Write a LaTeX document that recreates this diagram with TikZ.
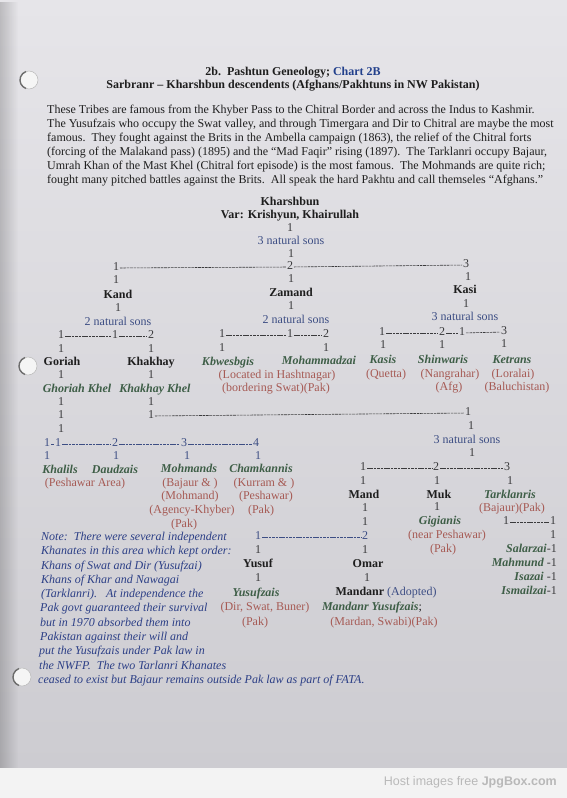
\documentclass[tikz,border=0pt]{standalone}
\usepackage{fontspec}
\setmainfont{Liberation Serif}
\newfontfamily\hostfont{Liberation Sans}
\usetikzlibrary{fadings}

\definecolor{papertop}{HTML}{E6E5E9}
\definecolor{paperbot}{HTML}{CDCCD1}
\definecolor{strip}{HTML}{F3F3F3}
\definecolor{inkblack}{HTML}{1E1E1E}
\definecolor{inkgray}{HTML}{3A3A3C}
\definecolor{clangreen}{HTML}{3E5E47}
\definecolor{placered}{HTML}{A65A54}
\definecolor{sonsblue}{HTML}{3D4E84}
\definecolor{noteblue}{HTML}{2C3F86}
\definecolor{chartblue}{HTML}{22408C}

\newcommand{\chartfont}{\fontsize{12}{13}\selectfont}

\begin{document}
\begin{tikzpicture}[x=1pt,y=-1pt,
    every node/.style={inner sep=0pt, text height=8pt, text depth=2.5pt, font=\chartfont},
    head/.style={font=\chartfont\bfseries, text=inkblack},
    clan/.style={font=\chartfont\bfseries\itshape, text=clangreen},
    place/.style={text=placered},
    sons/.style={text=sonsblue},
    bar/.style={text=inkgray},
    bluebar/.style={text=sonsblue},
    para/.style={anchor=west, text=inkblack},
    noteline/.style={anchor=west, font=\chartfont\itshape, text=noteblue},
    sib/.style={draw=inkgray, line width=0.6pt, dash pattern=on 2.6pt off 0.8pt,
                shorten <=0.8pt, shorten >=0.8pt},
    bluesib/.style={sib, draw=sonsblue}]

    % Draw the paper and the strip below it
    \useasboundingbox (0,0) rectangle (567,798);
    \shade[top color=papertop, bottom color=paperbot] (0,0) rectangle (567,768);
    \fill[black, opacity=0.18, path fading=east] (0,0) rectangle (18,768);
    \fill[strip] (0,768) rectangle (567,798);
    \node[anchor=east, font=\hostfont\fontsize{12.5}{14}\selectfont, text=gray!55] (host)
        at (557,783) {Host images free \textbf{JpgBox.com}};

    % Draw punch holes
    \foreach \hx/\hy in {29/80, 28/366, 22/677} {
        \fill[white!92!gray] (\hx,\hy) circle (9);
        \draw[gray!55, line width=0.5pt] (\hx,\hy) circle (9);
        \draw[gray!85!black, line width=1.4pt] ([shift={(110:9)}]\hx,\hy) arc (110:250:9);
    }

    % Draw title and text
    \node[head] (title) at (293,73) {2b.\ \ Pashtun Geneology; \textcolor{chartblue}{Chart 2B}};
    \node[head] (subtitle) at (293,86) {Sarbranr -- Kharshbun descendents (Afghans/Pakhtuns in NW Pakistan)};
    \node[para] (p1) at (47,111) {These Tribes are famous from the Khyber Pass to the Chitral Border and across the Indus to Kashmir.};
    \node[para] (p2) at (47,125) {The Yusufzais who occupy the Swat valley, and through Timergara and Dir to Chitral are maybe the most};
    \node[para] (p3) at (47,139) {famous.\ \ They fought against the Brits in the Ambella campaign (1863), the relief of the Chitral forts};
    \node[para] (p4) at (47,153) {(forcing of the Malakand pass) (1895) and the “Mad Faqir” rising (1897).\ \ The Tarklanri occupy Bajaur,};
    \node[para] (p5) at (47,167) {Umrah Khan of the Mast Khel (Chitral fort episode) is the most famous.\ \ The Mohmands are quite rich;};
    \node[para] (p6) at (47,181) {fought many pitched battles against the Brits.\ \ All speak the hard Pakhtu and call themseles “Afghans.”};

    % Draw Kharshbun and his sons
    \node[head] (kharshbun) at (290,203) {Kharshbun};
    \node[head] (var) at (290,216) {Var: Krishyun, Khairullah};
    \node[sons] (sons0) at (291,242) {3 natural sons};
    \node[bar] (top1) at (116,268) {1};
    \node[bar] (top2) at (290,267) {2};
    \node[bar] (top3) at (466,265) {3};
    \draw[sib] (top1) -- (top2);
    \draw[sib] (top2) -- (top3);
    \node[head] (kand) at (118,296) {Kand};
    \node[head] (zamand) at (291,294) {Zamand};
    \node[head] (kasi) at (465,291) {Kasi};
    \node[sons] (sonsk) at (118,323) {2 natural sons};
    \node[sons] (sonsz) at (296,321) {2 natural sons};
    \node[sons] (sonsc) at (465,318) {3 natural sons};

    % Sons of Kand, Zamand and Kasi
    \node[bar] (g1) at (61,336) {1};
    \node[bar] (g2) at (115,336) {1};
    \node[bar] (g3) at (151,336) {2};
    \draw[sib] (g1) -- (g2);
    \draw[sib] (g2) -- (g3);
    \node[bar] (z1) at (222,335) {1};
    \node[bar] (z2) at (290,335) {1};
    \node[bar] (z3) at (326,335) {2};
    \draw[sib] (z1) -- (z2);
    \draw[sib] (z2) -- (z3);
    \node[bar] (c1) at (382,333) {1};
    \node[bar] (c2) at (442,333) {2};
    \node[bar] (c3) at (462,333) {1};
    \node[bar] (c4) at (504,332) {3};
    \draw[sib] (c1) -- (c2);
    \draw[sib] (c2) -- (c3);
    \draw[sib] (c3) -- (c4);

    \node[head] (goriah) at (62,363) {Goriah};
    \node[head] (khakhay) at (151,363) {Khakhay};
    \node[clan] (kbwesbgis) at (228,363) {Kbwesbgis};
    \node[clan] (mohammadzai) at (319,362) {Mohammadzai};
    \node[clan] (kasis) at (383,361) {Kasis};
    \node[clan] (shinwaris) at (443,361) {Shinwaris};
    \node[clan] (ketrans) at (512,361) {Ketrans};
    \node[place] (located) at (277,376) {(Located in Hashtnagar)};
    \node[place] (quetta) at (386,375) {(Quetta)};
    \node[place] (nangrahar) at (450,375) {(Nangrahar)};
    \node[place] (loralai) at (513,375) {(Loralai)};
    \node[clan] (ghoriahkhel) at (77,390) {Ghoriah Khel};
    \node[clan] (khakhaykhel) at (155,390) {Khakhay Khel};
    \node[place] (bordering) at (276,389) {(bordering Swat)(Pak)};
    \node[place] (afg) at (449,388) {(Afg)};
    \node[place] (baluchistan) at (517,388) {(Baluchistan)};

    % Line from Khakhay Khel over to the Mand branch
    \node[bar] (kk1) at (151,416) {1};
    \node[bar] (kk2) at (468,413) {1};
    \draw[sib] (kk1) -- (kk2);

    % Sons of Ghoriah Khel
    \node[bluebar] (s1) at (47,444) {1};
    \node[bluebar] (s2) at (58,444) {1};
    \node[bluebar] (s3) at (115,444) {2};
    \node[bluebar] (s4) at (184,444) {3};
    \node[bluebar] (s5) at (256,444) {4};
    \draw[bluesib] (s1) -- (s2);
    \draw[bluesib] (s2) -- (s3);
    \draw[bluesib] (s3) -- (s4);
    \draw[bluesib] (s4) -- (s5);
    \node[clan] (khalils) at (60,471) {Khalils};
    \node[clan] (daudzais) at (115,471) {Daudzais};
    \node[clan] (mohmands) at (189,470) {Mohmands};
    \node[clan] (chamkannis) at (261,470) {Chamkannis};
    \node[place] (peshawararea) at (85,484) {(Peshawar Area)};
    \node[place] (bajaur) at (190,484) {(Bajaur \& )};
    \node[place] (kurram) at (264,484) {(Kurram \& )};
    \node[place] (mohmand) at (190,497) {(Mohmand)};
    \node[place] (peshawar) at (266,497) {(Peshawar)};
    \node[place] (agency) at (192,511) {(Agency-Khyber)};
    \node[place] (pakc) at (261,511) {(Pak)};
    \node[place] (pakm) at (184,525) {(Pak)};

    % Sons of Khakhay Khel
    \node[sons] (sonsm) at (467,441) {3 natural sons};
    \node[bar] (m1) at (363,468) {1};
    \node[bar] (m2) at (436,468) {2};
    \node[bar] (m3) at (507,468) {3};
    \draw[sib] (m1) -- (m2);
    \draw[sib] (m2) -- (m3);
    \node[head] (mand) at (364,496) {Mand};
    \node[head] (muk) at (439,496) {Muk};
    \node[clan] (tarklanris) at (510,496) {Tarklanris};
    \node[place] (bajaurpak) at (512,509) {(Bajaur)(Pak)};
    \node[clan] (gigianis) at (440,522) {Gigianis};
    \node[place] (nearpeshawar) at (447,536) {(near Peshawar)};
    \node[place] (pakg) at (443,550) {(Pak)};

    % Sons of Tarklanris
    \node[bar] (t1) at (506,522) {1};
    \node[bar] (t2) at (553,522) {1};
    \draw[sib] (t1) -- (t2);
    \node[anchor=east] (salarzai) at (557,550) {\textcolor{clangreen}{\bfseries\itshape Salarzai}\textcolor{inkgray}{-1}};
    \node[anchor=east] (mahmund) at (557,564) {\textcolor{clangreen}{\bfseries\itshape Mahmund} \textcolor{inkgray}{-1}};
    \node[anchor=east] (isazai) at (557,578) {\textcolor{clangreen}{\bfseries\itshape Isazai} \textcolor{inkgray}{-1}};
    \node[anchor=east] (ismailzai) at (557,592) {\textcolor{clangreen}{\bfseries\itshape Ismailzai}\textcolor{inkgray}{-1}};

    % Sons of Mand
    \node[bluebar] (y1) at (258,537) {1};
    \node[bluebar] (y2) at (365,537) {2};
    \draw[bluesib] (y1) -- (y2);
    \node[head] (yusuf) at (258,565) {Yusuf};
    \node[head] (omar) at (368,565) {Omar};
    \node[clan] (yusufzais) at (256,594) {Yusufzais};
    \node[head] (mandanr) at (386,593) {Mandanr \textcolor{sonsblue}{\mdseries(Adopted)}};
    \node[place] (dirswat) at (265,608) {(Dir, Swat, Buner)};
    \node[clan] (mandanryus) at (372,608) {Mandanr Yusufzais\textcolor{inkblack}{\mdseries\upshape;}};
    \node[place] (paky) at (255,623) {(Pak)};
    \node[place] (mardan) at (384,623) {(Mardan, Swabi)(Pak)};

    % Draw the single links, as a column of 1s
    \foreach \x/\y [count=\i] in {290/229, 291/255, 116/281, 291/280, 468/278,
        118/309, 291/307, 466/305, 61/350, 151/350, 222/349, 326/349,
        383/346, 442/346, 504/345, 61/376, 151/376, 61/403, 151/403,
        61/416, 61/430, 471/427, 472/454, 363/482, 437/482, 510/482,
        365/509, 437/508, 365/523, 553/536, 258/551, 365/551,
        258/579, 367/579}
        \node[bar] (link\i) at (\x,\y) {1};
    \foreach \x [count=\i] in {47, 116, 187, 258}
        \node[bluebar] (glink\i) at (\x,457) {1};

    % Draw the note
    \node[noteline] (n1) at (41,538) {Note:\ \ There were several independent};
    \node[noteline] (n2) at (41,552) {Khanates in this area which kept order:};
    \node[noteline] (n3) at (41,567) {Khans of Swat and Dir (Yusufzai)};
    \node[noteline] (n4) at (41,581) {Khans of Khar and Nawagai};
    \node[noteline] (n5) at (41,595) {(Tarklanri).\ \ \ At independence the};
    \node[noteline] (n6) at (40,609) {Pak govt guaranteed their survival};
    \node[noteline] (n7) at (40,624) {but in 1970 absorbed them into};
    \node[noteline] (n8) at (40,638) {Pakistan against their will and};
    \node[noteline] (n9) at (39,652) {put the Yusufzais under Pak law in};
    \node[noteline] (n10) at (39,667) {the NWFP.\ \ The two Tarlanri Khanates};
    \node[noteline] (n11) at (38,681) {ceased to exist but Bajaur remains outside Pak law as part of FATA.};

\end{tikzpicture}
\end{document}
